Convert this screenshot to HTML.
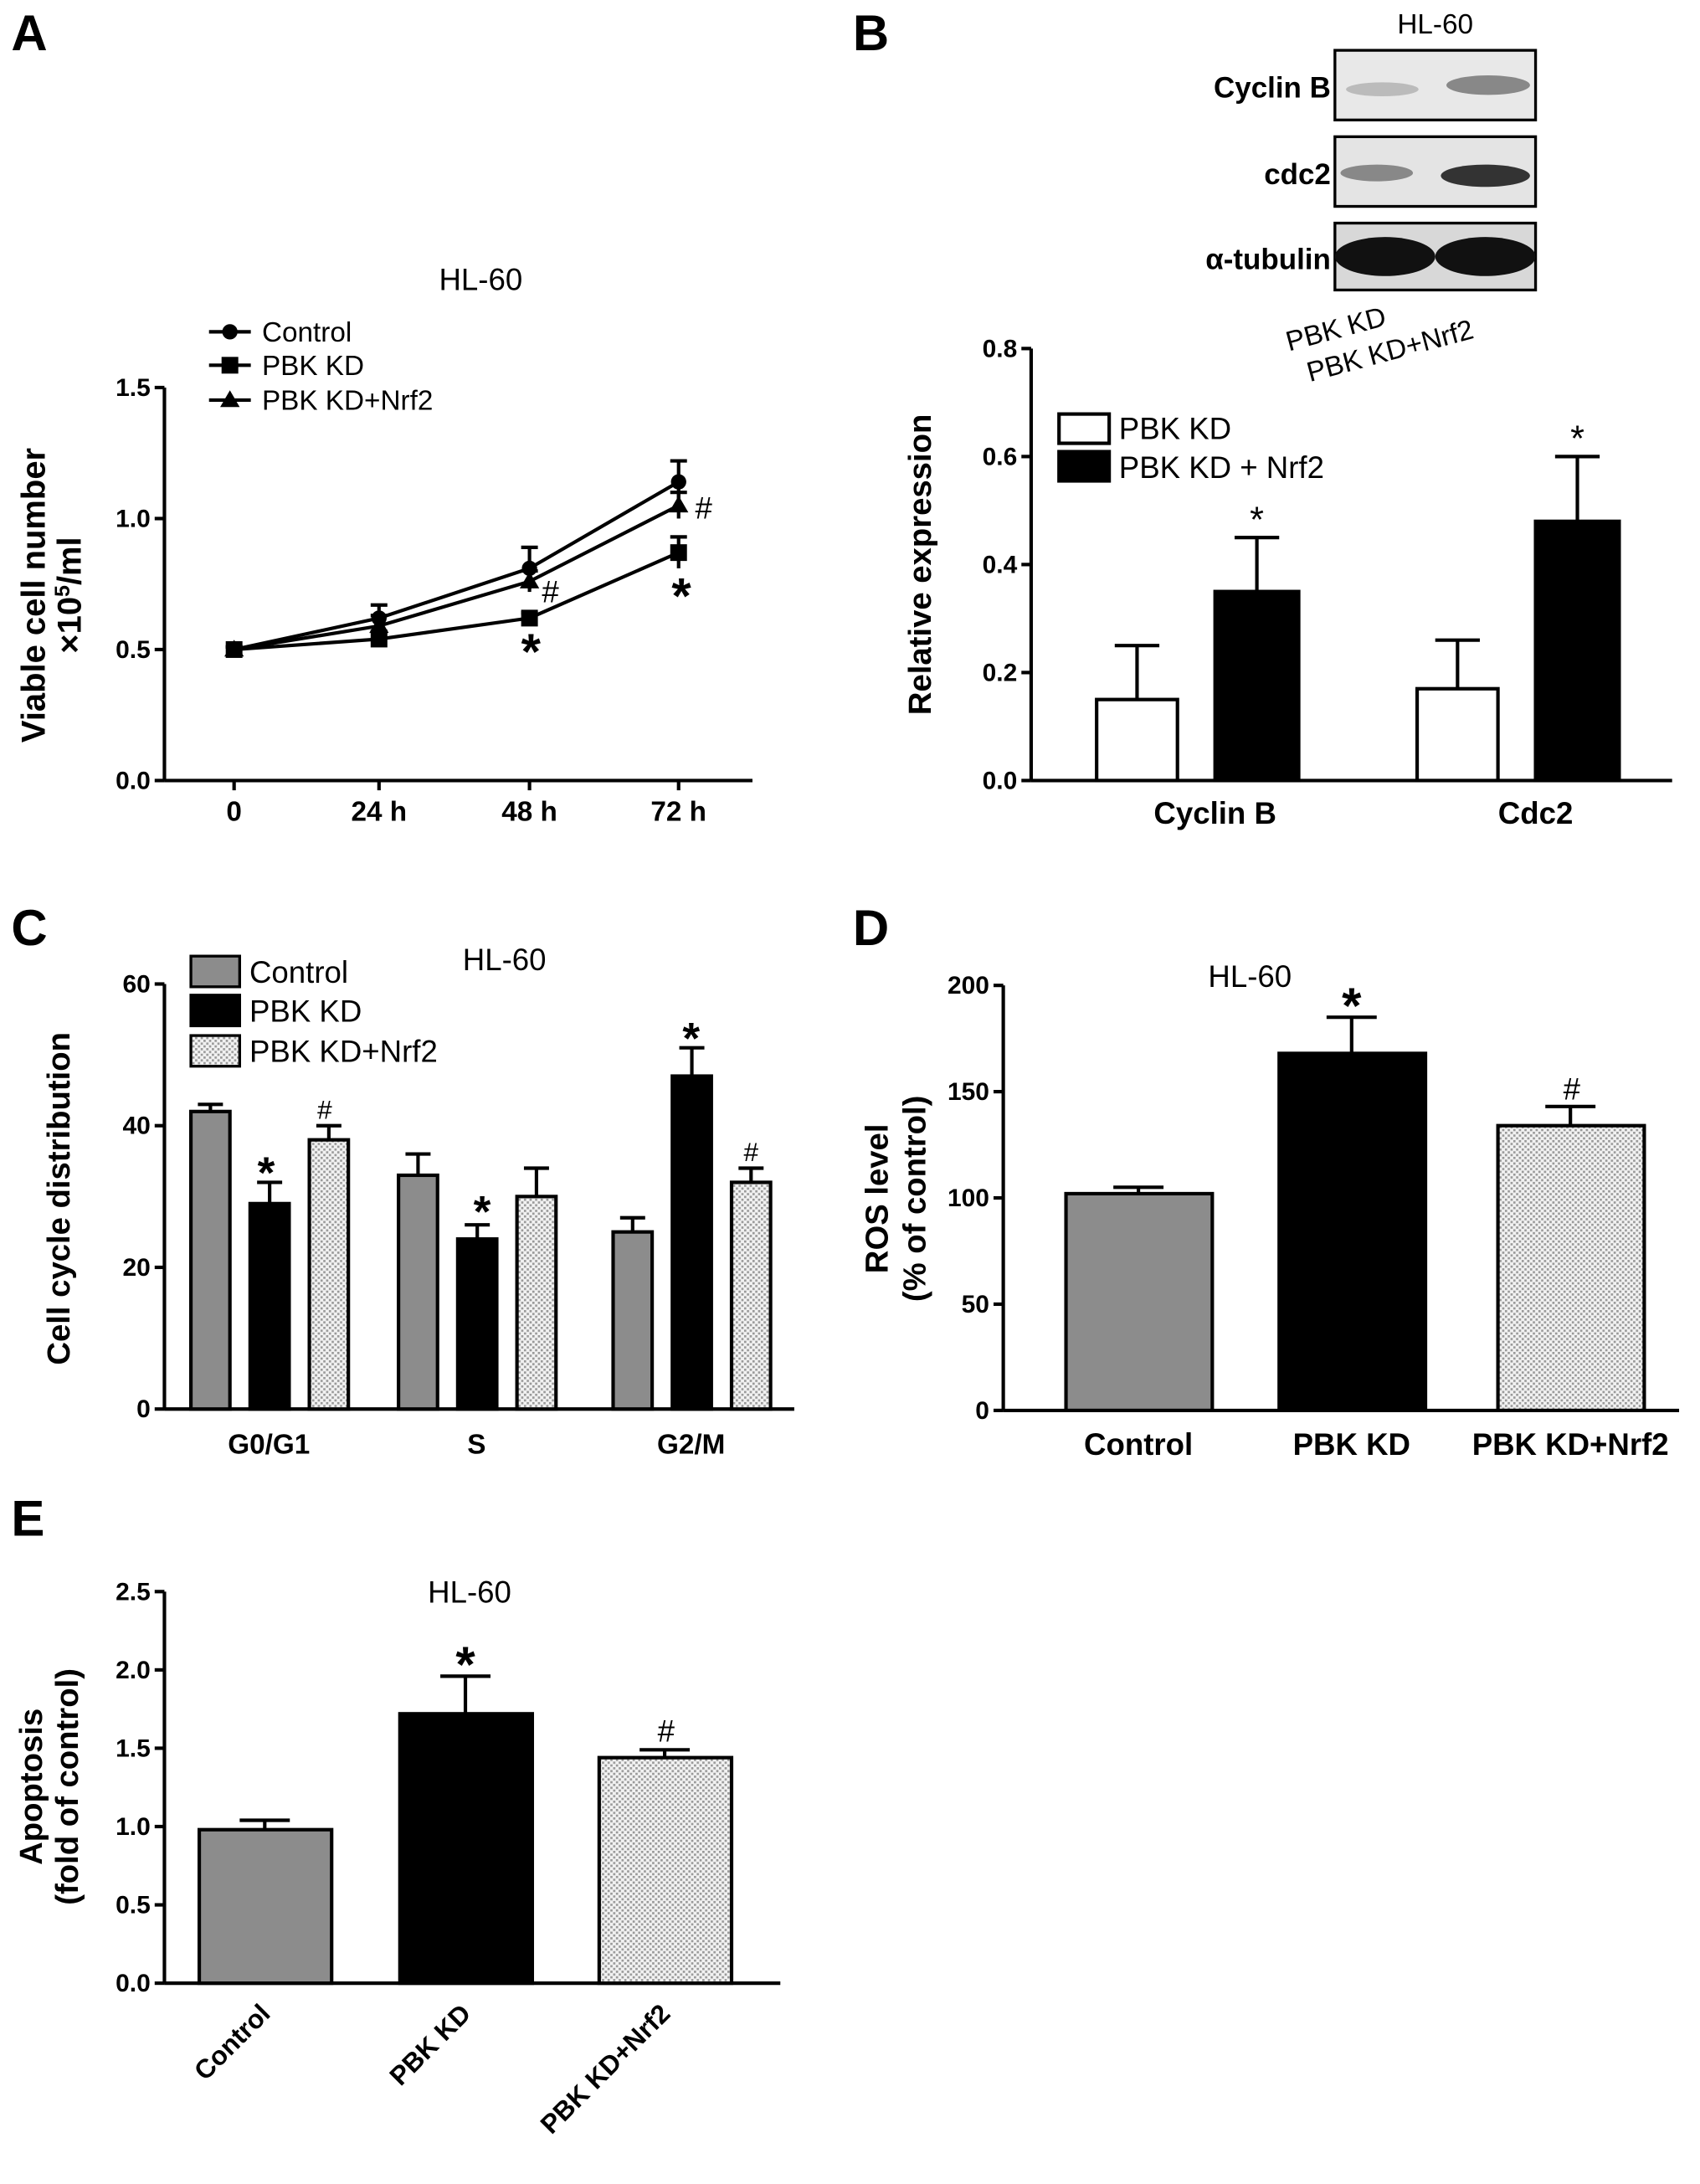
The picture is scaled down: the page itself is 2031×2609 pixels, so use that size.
<!DOCTYPE html>
<html><head><meta charset="utf-8"><style>
html,body{margin:0;padding:0;background:#fff}
svg{display:block}
text{font-family:"Liberation Sans",Arial,sans-serif;fill:#000}
.b{font-weight:bold}
</style></head><body>
<svg id="fig" width="2031" height="2609" viewBox="0 0 1220 1567" xmlns="http://www.w3.org/2000/svg">
<defs>
<pattern id="dots" width="4" height="4" patternUnits="userSpaceOnUse"><rect width="4" height="4" fill="#f2f2f2"/><rect x="0" y="0" width="1.6" height="1.6" fill="#999"/><rect x="2" y="2" width="1.6" height="1.6" fill="#999"/></pattern>
</defs>
<g>
<text x="8" y="36" font-size="36" class="b">A</text>
<text x="612" y="36" font-size="36" class="b">B</text>
<text x="8" y="678" font-size="36" class="b">C</text>
<text x="612" y="678" font-size="36" class="b">D</text>
<text x="8" y="1102" font-size="36" class="b">E</text>
</g>
<!-- Blot -->
<g>
<text x="1030" y="24" font-size="20" text-anchor="middle">HL-60</text>
<rect x="958" y="36" width="144" height="50" fill="#e8e8e8" stroke="#000" stroke-width="2"/>
<ellipse cx="992" cy="64" rx="26" ry="5" fill="#bbb"/><ellipse cx="1068" cy="61" rx="30" ry="7" fill="#888"/>
<rect x="958" y="98" width="144" height="50" fill="#e4e4e4" stroke="#000" stroke-width="2"/>
<ellipse cx="988" cy="124" rx="26" ry="6" fill="#888"/><ellipse cx="1066" cy="126" rx="32" ry="8" fill="#333"/>
<rect x="958" y="160" width="144" height="48" fill="#d8d8d8" stroke="#000" stroke-width="2"/>
<ellipse cx="994" cy="184" rx="36" ry="14" fill="#111"/><ellipse cx="1066" cy="184" rx="36" ry="14" fill="#111"/>
<text x="955" y="70" font-size="21" class="b" text-anchor="end">Cyclin B</text>
<text x="955" y="132" font-size="21" class="b" text-anchor="end">cdc2</text>
<text x="955" y="193" font-size="21" class="b" text-anchor="end">α-tubulin</text>
<text x="925" y="252" font-size="20" transform="rotate(-15 925 252)">PBK KD</text>
<text x="940" y="274" font-size="20" transform="rotate(-15 940 274)">PBK KD+Nrf2</text>
</g>
<g id="charts"></g>
</svg>
<script>
// ---- Panel A data
const aCats=["0","24 h","48 h","72 h"];
const aControl=[0.5,0.62,0.81,1.14];
const aControlErr=[0.01,0.05,0.08,0.08];
const aKD=[0.5,0.54,0.62,0.87];
const aKDErr=[0.01,0.03,0.02,0.06];
const aNrf2=[0.5,0.59,0.76,1.05];
const aNrf2Err=[0.01,0.04,0.04,0.05];
const aTicks=[0,0.5,1.0,1.5];
// ---- Panel B data
const bCats=["Cyclin B","Cdc2"];
const bKD=[0.15,0.17];
const bKDErr=[0.10,0.09];
const bNrf2=[0.35,0.48];
const bNrf2Err=[0.10,0.12];
const bTicks=[0,0.2,0.4,0.6,0.8];
// ---- Panel C data
const cCats=["G0/G1","S","G2/M"];
const cControl=[42,33,25];
const cControlErr=[1,3,2];
const cKD=[29,24,47];
const cKDErr=[3,2,4];
const cNrf2=[38,30,32];
const cNrf2Err=[2,4,2];
const cTicks=[0,20,40,60];
// ---- Panel D data
const dCats=["Control","PBK KD","PBK KD+Nrf2"];
const dVals=[102,168,134];
const dErr=[3,17,9];
const dTicks=[0,50,100,150,200];
// ---- Panel E data
const eCats=["Control","PBK KD","PBK KD+Nrf2"];
const eVals=[0.98,1.72,1.44];
const eErr=[0.06,0.24,0.05];
const eTicks=[0,0.5,1.0,1.5,2.0,2.5];

const NS="http://www.w3.org/2000/svg";
const root=document.getElementById('charts');
function mk(tag,attrs,parent,txt){const e=document.createElementNS(NS,tag);for(const k in attrs)e.setAttribute(k,attrs[k]);if(txt!==undefined)e.textContent=txt;(parent||root).appendChild(e);return e;}
function lin(d0,d1,r0,r1){return v=>r0+(v-d0)*(r1-r0)/(d1-d0);}
function yAxis(g,x,y,ticks,fmt){
  const ax=mk('line',{x1:x,y1:y(ticks[0]),x2:x,y2:y(ticks[ticks.length-1]),stroke:'#000','stroke-width':2.5},g);
  
  
  ticks.forEach(t=>{
    mk('line',{x1:x-7,y1:y(t),x2:x,y2:y(t),stroke:'#000','stroke-width':2.5},g);
    const tl=mk('text',{x:x-10,y:y(t)+6,'font-size':18,'text-anchor':'end',class:'b'},g,fmt(t));
    
    
  });
}
function err(g,cx,ytop,ybar,w){
  mk('line',{x1:cx,y1:ybar,x2:cx,y2:ytop,stroke:'#000','stroke-width':2.5},g);
  mk('line',{x1:cx-w,y1:ytop,x2:cx+w,y2:ytop,stroke:'#000','stroke-width':2.5},g);
}
function bar(g,x,w,y,v,fill,name){
  const r=mk('rect',{x:x,y:y(v),width:w,height:y(0)-y(v),fill:fill,stroke:'#000','stroke-width':2.5},g);
  
  
  return r;
}
function lbl(g,x,y,s,size,name,anchor,extra){
  const t=mk('text',Object.assign({x:x,y:y,'font-size':size,'text-anchor':anchor||'middle'},extra||{}),g,s);
  
  
  return t;
}

// ===== Panel A
(function(){
  const g=mk('g',{});
  
  
  const y=lin(0,1.5,560,278);
  const xs=[168,272,380,487];
  yAxis(g,118,y,aTicks,t=>t.toFixed(1));
  mk('line',{x1:118,y1:560,x2:540,y2:560,stroke:'#000','stroke-width':2.5},g);
  xs.forEach((x,i)=>{mk('line',{x1:x,y1:560,x2:x,y2:567,stroke:'#000','stroke-width':2.5},g);
    lbl(g,x,589,aCats[i],20,'x-tick-label','middle',{class:'b'});});
  lbl(g,345,208,'HL-60',22,'chart-title');
  lbl(g,32,427,'Viable cell number',24,'y-axis-title','middle',{class:'b',transform:'rotate(-90 32 427)'});
  const t2=lbl(g,58,427,'',24,'y-axis-title-unit','middle',{class:'b',transform:'rotate(-90 58 427)'});
  t2.innerHTML='×10<tspan dy="-8" font-size="15">5</tspan><tspan dy="8">/ml</tspan>';
  const series=[[aControl,aControlErr,'circle','control'],[aKD,aKDErr,'square','pbk-kd'],[aNrf2,aNrf2Err,'triangle','pbk-kd-nrf2']];
  function marker(x,yy,s){
    if(s==='circle')return mk('circle',{cx:x,cy:yy,r:5.5,fill:'#000'},g);
    if(s==='square')return mk('rect',{x:x-6,y:yy-6,width:12,height:12,fill:'#000'},g);
    return mk('polygon',{points:`${x},${yy-7} ${x+7},${yy+5} ${x-7},${yy+5}`,fill:'#000'},g);
  }
  series.forEach(([vals,errs,s,nm])=>{
    const p=mk('polyline',{points:vals.map((v,i)=>xs[i]+','+y(v)).join(' '),fill:'none',stroke:'#000','stroke-width':2.5},g);
    
    
    vals.forEach((v,i)=>{err(g,xs[i],y(v+errs[i]),y(v-errs[i]),6);
      const m=marker(xs[i],y(v),s);
      
      });
  });
  lbl(g,381,480,'*',36,'sig-star','middle',{class:'b'});lbl(g,489,440,'*',36,'sig-star','middle',{class:'b'});
  lbl(g,395,432,'#',22,'sig-hash');lbl(g,505,372,'#',22,'sig-hash');
  const leg=[['circle','Control',238],['square','PBK KD',262],['triangle','PBK KD+Nrf2',287]];
  leg.forEach(([s,t,yy])=>{mk('line',{x1:150,y1:yy,x2:180,y2:yy,stroke:'#000','stroke-width':2.5},g);marker(165,yy,s);
    lbl(g,188,yy+7,t,20,'legend-entry','start');});
})();

// ===== Panel B
(function(){
  const g=mk('g',{});
  
  
  const y=lin(0,0.8,560,250);
  yAxis(g,740,y,bTicks,t=>t.toFixed(1));
  mk('line',{x1:740,y1:560,x2:1200,y2:560,stroke:'#000','stroke-width':2.5},g);
  const cx=[860,1090];
  cx.forEach((c,i)=>{
    bar(g,c-73,58,y,bKD[i],'#fff','bar-pbk-kd-'+i);
    err(g,c-44,y(bKD[i]+bKDErr[i]),y(bKD[i]),16);
    bar(g,c+12,60,y,bNrf2[i],'#000','bar-pbk-kd-nrf2-'+i);
    err(g,c+42,y(bNrf2[i]+bNrf2Err[i]),y(bNrf2[i]),16);
    lbl(g,c+42,y(bNrf2[i]+bNrf2Err[i])-4,'*',26,'sig-star');
    lbl(g,c+12,591,bCats[i],22,'x-tick-label','middle',{class:'b'});
  });
  lbl(g,668,405,'Relative expression',23,'y-axis-title','middle',{class:'b',transform:'rotate(-90 668 405)'});
  mk('rect',{x:760,y:297,width:36,height:21,fill:'#fff',stroke:'#000','stroke-width':2.5},g);
  lbl(g,803,315,'PBK KD',22,'legend-entry','start');
  mk('rect',{x:760,y:324,width:36,height:21,fill:'#000',stroke:'#000','stroke-width':2.5},g);
  lbl(g,803,343,'PBK KD + Nrf2',22,'legend-entry','start');
})();

// ===== Panel C
(function(){
  const g=mk('g',{});
  
  
  const y=lin(0,60,1011,706);
  yAxis(g,118,y,cTicks,t=>String(t));
  mk('line',{x1:118,y1:1011,x2:570,y2:1011,stroke:'#000','stroke-width':2.5},g);
  const starts=[137,286,440];
  const fills=['#8c8c8c','#000','url(#dots)'];
  const sets=[[cControl,cControlErr,'control'],[cKD,cKDErr,'pbk-kd'],[cNrf2,cNrf2Err,'pbk-kd-nrf2']];
  starts.forEach((s,i)=>{
    sets.forEach(([v,e,nm],j)=>{
      const x=s+j*42.5;
      bar(g,x,28,y,v[i],fills[j],'bar-'+nm+'-'+i);
      err(g,x+14,y(v[i]+e[i]),y(v[i]),9);
    });
    lbl(g,s+56,1043,cCats[i],20,'x-tick-label','middle',{class:'b'});
  });
  lbl(g,191,y(32)+4,'*',32,'sig-star','middle',{class:'b'});lbl(g,346,y(26.5)+4,'*',32,'sig-star','middle',{class:'b'});lbl(g,496,y(51)+4,'*',32,'sig-star','middle',{class:'b'});
  lbl(g,233,y(40)-5,'#',19,'sig-hash');lbl(g,539,y(34)-5,'#',19,'sig-hash');
  lbl(g,50,860,'Cell cycle distribution',23,'y-axis-title','middle',{class:'b',transform:'rotate(-90 50 860)'});
  lbl(g,362,696,'HL-60',22,'chart-title');
  [['#8c8c8c','Control',686],['#000','PBK KD',714],['url(#dots)','PBK KD+Nrf2',743]].forEach(([f,t,yy])=>{
    mk('rect',{x:137,y:yy,width:35,height:22,fill:f,stroke:'#000','stroke-width':2},g);
    lbl(g,179,yy+19,t,22,'legend-entry','start');});
})();

// ===== Panel D
(function(){
  const g=mk('g',{});
  
  
  const y=lin(0,200,1012,707);
  yAxis(g,720,y,dTicks,t=>String(t));
  mk('line',{x1:720,y1:1012,x2:1205,y2:1012,stroke:'#000','stroke-width':2.5},g);
  const xs=[765,918,1075];
  const fills=['#8c8c8c','#000','url(#dots)'];
  xs.forEach((x,i)=>{
    bar(g,x,105,y,dVals[i],fills[i],'bar-'+i);
    err(g,x+52,y(dVals[i]+dErr[i]),y(dVals[i]),18);
    lbl(g,x+52,1044,dCats[i],22,'x-tick-label','middle',{class:'b'});
  });
  lbl(g,970,y(185)+4,'*',36,'sig-star','middle',{class:'b'});lbl(g,1128,y(143)-5,'#',22,'sig-hash');
  lbl(g,897,708,'HL-60',22,'chart-title');
  lbl(g,637,860,'ROS level',23,'y-axis-title','middle',{class:'b',transform:'rotate(-90 637 860)'});
  lbl(g,664,860,'(% of control)',23,'y-axis-title-2','middle',{class:'b',transform:'rotate(-90 664 860)'});
})();

// ===== Panel E
(function(){
  const g=mk('g',{});
  
  
  const y=lin(0,2.5,1423,1142);
  yAxis(g,118,y,eTicks,t=>t.toFixed(1));
  mk('line',{x1:118,y1:1423,x2:560,y2:1423,stroke:'#000','stroke-width':2.5},g);
  const xs=[143,287,430];
  const fills=['#8c8c8c','#000','url(#dots)'];
  xs.forEach((x,i)=>{
    bar(g,x,95,y,eVals[i],fills[i],'bar-'+i);
    err(g,x+47,y(eVals[i]+eErr[i]),y(eVals[i]),18);
    const cx=x+52, cy=1446;
    lbl(g,cx,cy,eCats[i],19,'x-tick-label','end',{class:'b',transform:`rotate(-45 ${cx} ${cy})`});
  });
  lbl(g,334,y(1.96)+4,'*',36,'sig-star','middle',{class:'b'});lbl(g,478,y(1.49)-6,'#',22,'sig-hash');
  lbl(g,337,1150,'HL-60',22,'chart-title');
  lbl(g,30,1282,'Apoptosis',23,'y-axis-title','middle',{class:'b',transform:'rotate(-90 30 1282)'});
  lbl(g,56,1282,'(fold of control)',23,'y-axis-title-2','middle',{class:'b',transform:'rotate(-90 56 1282)'});
})();
</script>
</body></html>
